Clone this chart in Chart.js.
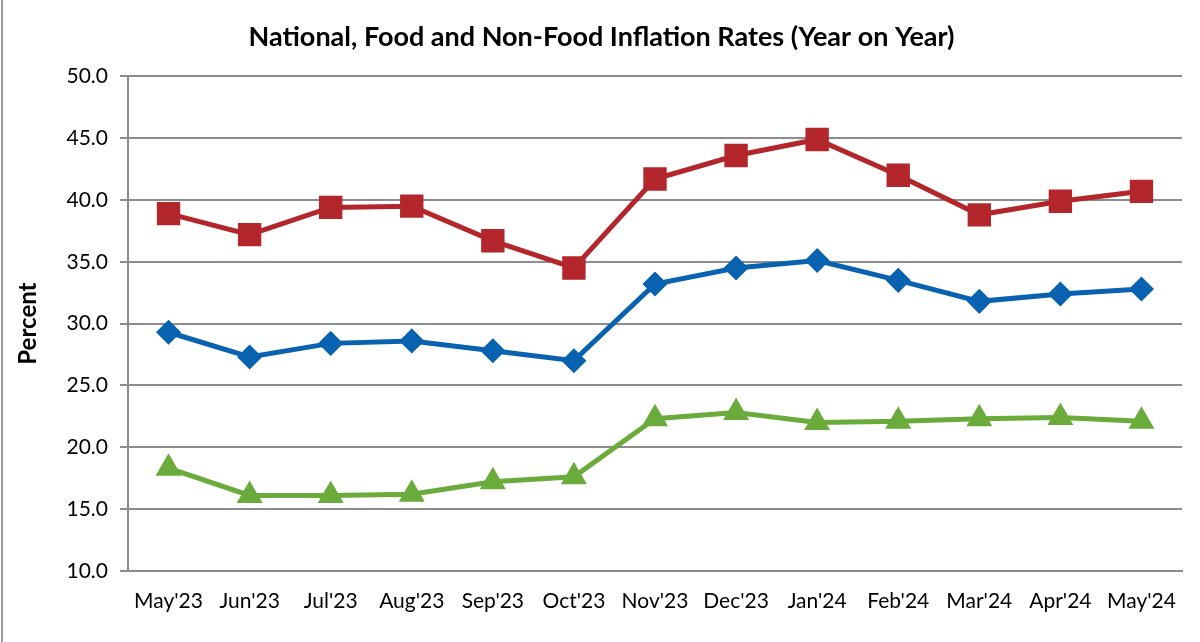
<!DOCTYPE html>
<html lang="en">
<head>
  <meta charset="UTF-8">
  <title>National, Food and Non-Food Inflation Rates</title>
  <script src="https://cdn.jsdelivr.net/npm/chart.js"></script>
  <style>
    body {
      margin: 0;
      background: #ffffff;
    }

    #chart-container {
      position: relative;
      width: 1200px;
      height: 642px;
    }

    /* thin frame line on the left edge like the original picture */
    #frame-left {
      position: absolute;
      left: 1px;
      top: 0;
      width: 2px;
      height: 642px;
      background: #9a9a9a;
    }
  </style>
</head>
<body>
  <div id="chart-container">
    <div id="frame-left"></div>
    <canvas id="inflationChart"></canvas>
  </div>
  <script>
    const months = ["May'23", "Jun'23", "Jul'23", "Aug'23", "Sep'23", "Oct'23", "Nov'23", "Dec'23", "Jan'24", "Feb'24", "Mar'24", "Apr'24", "May'24"];
    const national = [29.3, 27.3, 28.4, 28.6, 27.8, 27.0, 33.2, 34.5, 35.1, 33.5, 31.8, 32.4, 32.8];
    const food = [38.9, 37.2, 39.4, 39.5, 36.7, 34.5, 41.7, 43.6, 44.9, 42.0, 38.8, 39.9, 40.7];
    const nonFood = [18.3, 16.1, 16.1, 16.2, 17.2, 17.6, 22.3, 22.8, 22.0, 22.1, 22.3, 22.4, 22.1];

    const fontFamily = "Lato, 'Open Sans', sans-serif";
    const gridColor = "#8c8c8c";

    const ctx = document.getElementById("inflationChart").getContext("2d");

    new Chart(ctx, {
      type: "line",
      data: {
        labels: months,
        datasets: [
          {
            label: "Food",
            data: food,
            borderColor: "#b3262b",
            backgroundColor: "#b3262b",
            borderWidth: 5,
            pointStyle: "rect",
            pointRadius: 13,
            tension: 0,
          },
          {
            label: "National",
            data: national,
            borderColor: "#0862b0",
            backgroundColor: "#0862b0",
            borderWidth: 5,
            pointStyle: "rectRot",
            pointRadius: 9,
            tension: 0,
          },
          {
            label: "Non-Food",
            data: nonFood,
            borderColor: "#6aab3c",
            backgroundColor: "#6aab3c",
            borderWidth: 5,
            pointStyle: "triangle",
            pointRadius: 10,
            tension: 0,
          },
        ],
      },
      options: {
        responsive: true,
        maintainAspectRatio: false,
        animation: false,
        layout: {
          padding: { left: 14, right: 11, top: 0, bottom: 10 },
        },
        plugins: {
          legend: { display: false },
          tooltip: { enabled: false },
          title: {
            display: true,
            text: "National, Food and Non-Food Inflation Rates (Year on Year)",
            color: "#000000",
            font: { family: fontFamily, size: 27, weight: "bold" },
            padding: { top: 21, bottom: 23 },
          },
        },
        scales: {
          x: {
            offset: true,
            grid: { display: false, drawTicks: false },
            border: { display: true, color: gridColor, width: 2 },
            ticks: {
              color: "#000000",
              font: { family: fontFamily, size: 21 },
              padding: 18,
              maxRotation: 0,
              autoSkip: false,
            },
          },
          y: {
            min: 10,
            max: 50,
            afterFit: (scale) => { scale.width = 114; },
            grid: { color: gridColor, lineWidth: 2, tickLength: 8 },
            border: { display: true, color: gridColor, width: 2 },
            ticks: {
              stepSize: 5,
              color: "#000000",
              font: { family: fontFamily, size: 21 },
              padding: 12,
              callback: (v) => v.toFixed(1),
            },
            title: {
              display: true,
              text: "Percent",
              color: "#000000",
              font: { family: fontFamily, size: 24, weight: "bold" },
              padding: { top: 0, bottom: 10 },
            },
          },
        },
      },
    });
  </script>
</body>
</html>
